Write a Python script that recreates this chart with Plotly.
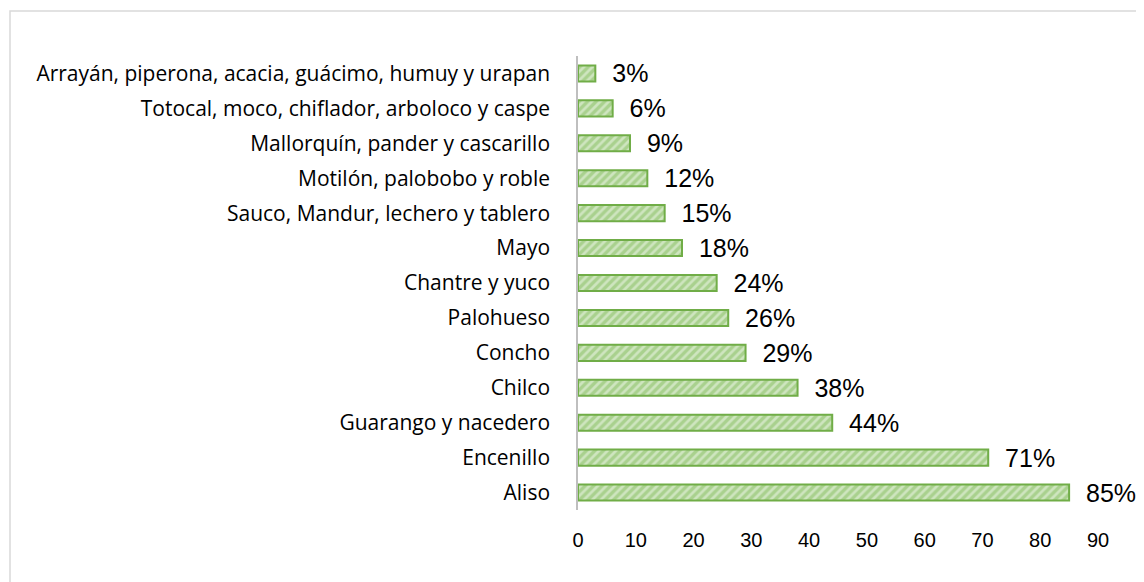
import plotly.graph_objects as go

categories = [
    "Aliso",
    "Encenillo",
    "Guarango y nacedero",
    "Chilco",
    "Concho",
    "Palohueso",
    "Chantre y yuco",
    "Mayo",
    "Sauco, Mandur, lechero y tablero",
    "Motilón, palobobo y roble",
    "Mallorquín, pander y cascarillo",
    "Totocal, moco, chiflador, arboloco y caspe",
    "Arrayán, piperona, acacia, guácimo, humuy y urapan",
]
values = [85, 71, 44, 38, 29, 26, 24, 18, 15, 12, 9, 6, 3]
x_ticks = [0, 10, 20, 30, 40, 50, 60, 70, 80, 90]

# page is drawn with an 8px body offset
OFF = 8
W, H = 1144 - OFF, 582 - OFF
L, R, T, B = 578 - OFF, 46, 56 - OFF, 72
pw = W - L - R
ph = H - T - B

fig = go.Figure(
    go.Bar(
        x=values,
        y=categories,
        orientation="h",
        width=0.46,
        marker=dict(
            color="#A9D18E",
            line=dict(color="#70AD47", width=2),
            pattern=dict(shape="/", fgcolor="#F4FAF0", bgcolor="#A9D18E", size=6, solidity=0.45),
        ),
        text=[f"{v}%" for v in values],
        texttemplate="  %{text}",
        textposition="outside",
        constraintext="none",
        cliponaxis=False,
        textfont=dict(family="Liberation Sans, Arial", size=25, color="#000000"),
        hoverinfo="skip",
    )
)

fig.update_layout(
    width=W,
    height=H,
    margin=dict(l=L, r=R, t=T, b=B),
    paper_bgcolor="#ffffff",
    plot_bgcolor="#ffffff",
    showlegend=False,
    xaxis=dict(
        range=[0, 90],
        tickvals=x_ticks,
        showgrid=False,
        zeroline=False,
        showline=False,
        ticks="",
        tickfont=dict(family="Liberation Sans, Arial", size=20, color="#000000"),
        ticklabelstandoff=16,
    ),
    yaxis=dict(
        categoryorder="array",
        categoryarray=categories,
        showgrid=False,
        zeroline=False,
        showline=True,
        linecolor="#BFBFBF",
        linewidth=1.5,
        ticks="",
        ticklabelstandoff=22,
        tickfont=dict(family="Open Sans, Lato, sans-serif", size=21, color="#000000"),
    ),
    shapes=[
        dict(
            type="rect",
            xref="paper",
            yref="paper",
            x0=(10 - OFF - L) / pw,
            x1=(W + 20 - L) / pw,
            y0=(H - B - (H + 20)) / ph,
            y1=(H - B - (11 - OFF)) / ph,
            line=dict(color="#D9D9D9", width=1.5),
            fillcolor="rgba(0,0,0,0)",
            layer="below",
        )
    ],
)

fig.write_html("out.html")
